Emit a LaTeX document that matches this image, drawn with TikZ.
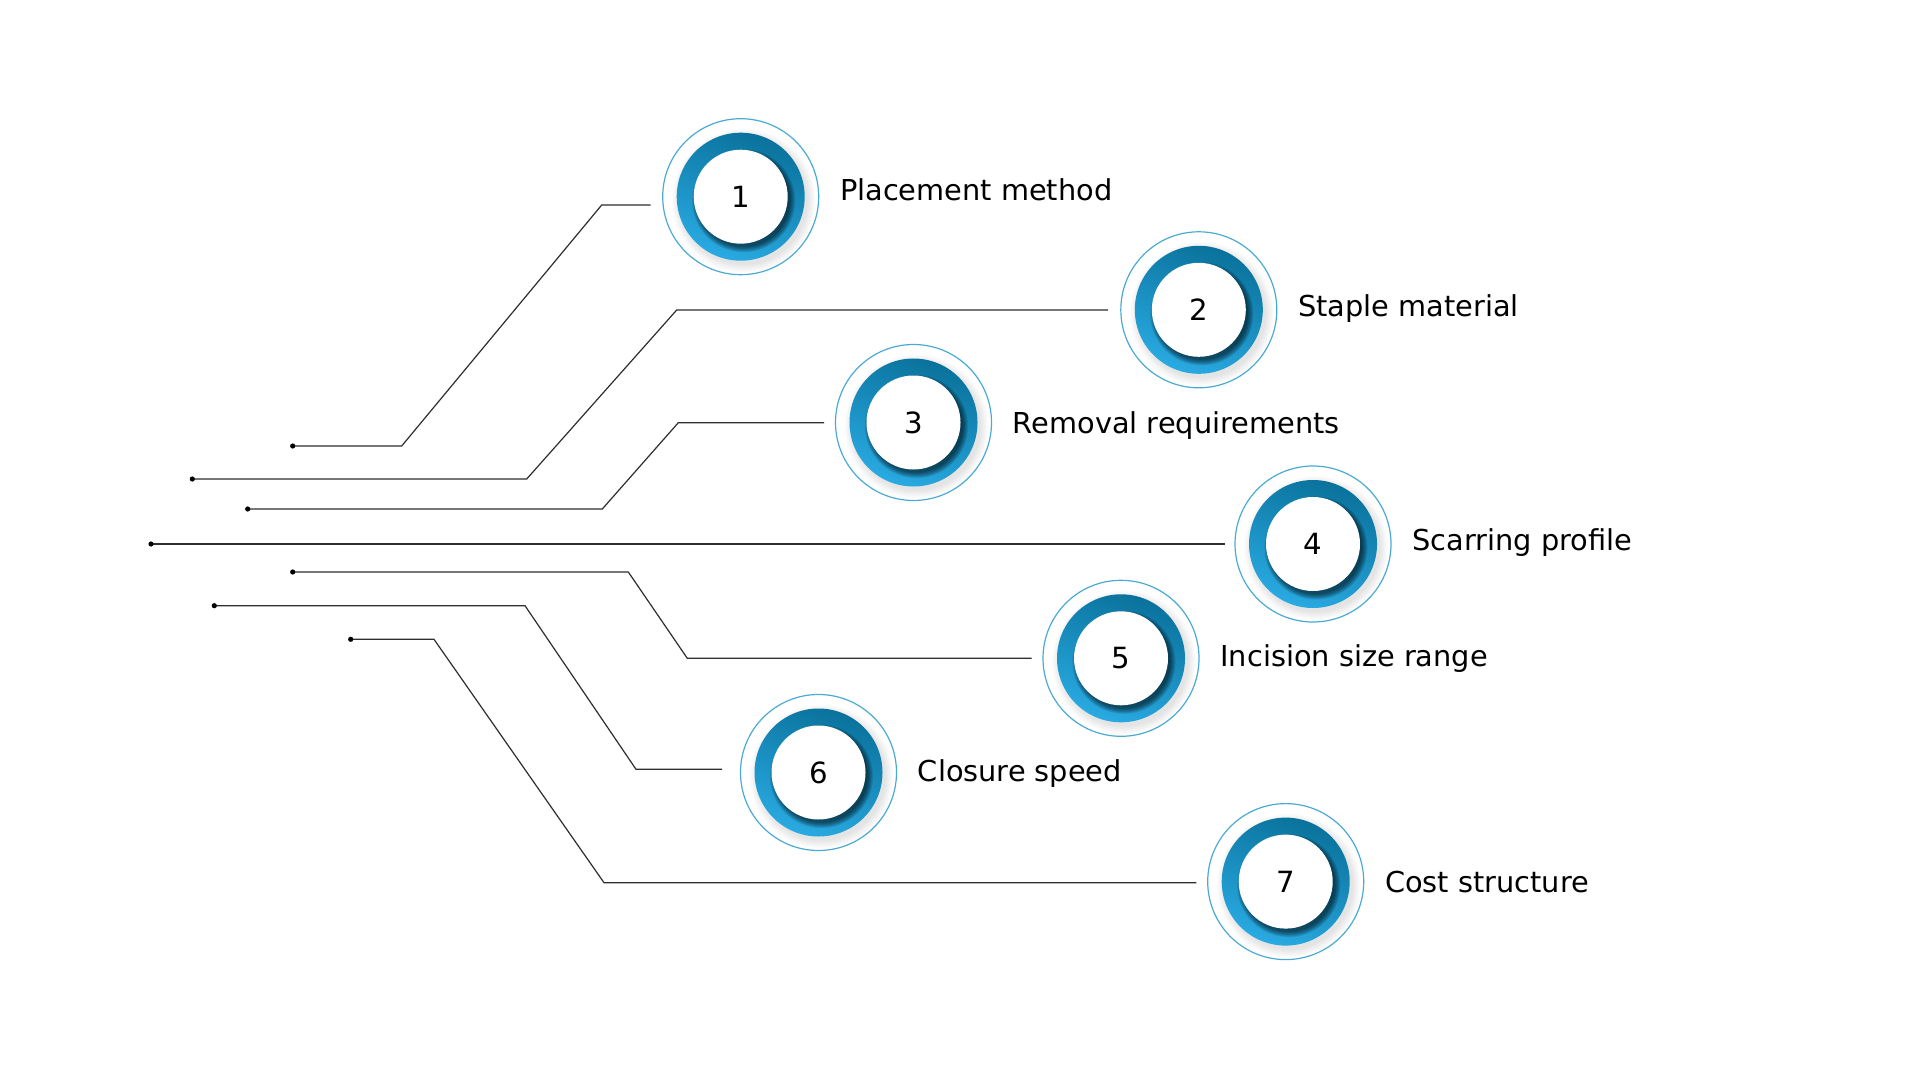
\documentclass[tikz,border=0pt]{standalone}
\usepackage{fontspec}
\setmainfont{DejaVu Sans}
\definecolor{ringtop}{HTML}{0A729C}
\definecolor{ringbot}{HTML}{29AAE2}
\definecolor{halo}{HTML}{4AAAD4}
\definecolor{wirecol}{HTML}{2E2E2E}
\tikzstyle{wire}=[draw=wirecol,line width=0.6pt]
\tikzstyle{digit}=[font=\fontsize{14.6}{16}\selectfont,inner sep=0pt,anchor=base]
\tikzstyle{caption}=[font=\fontsize{14.4}{16}\selectfont,inner sep=0pt,anchor=base west]

\begin{document}
\begin{tikzpicture}[x=0.5pt,y=-0.5pt]
\useasboundingbox[fill=white] (0,0) rectangle (1920,1080);
\foreach \n/\px/\py/\ax/\bx/\by/\ex in {%
    1/292.7/446/401.7/601.7/205/650.7,
    2/192.3/479/526.7/676.7/310/1108.2,
    3/247.7/509/602.3/678.3/422.7/824,
    4/151/544/600/700/544/1224.5,
    5/292.7/572/628.3/687.3/658.3/1031.7,
    6/214.3/605.7/525/636/769.3/722,
    7/350.7/639.3/434/604/882.7/1196.3}{
  \coordinate (p\n) at (\px,\py);
  \coordinate (e\n) at (\ex,\by);
  \draw[wire] (p\n) -- (\ax,\py) -- (\bx,\by) -- (e\n);
  \fill[black] (p\n) circle (2.6);
}
\foreach \n/\x/\y/\ty/\t in {%
    1/740.7/196.7/190/Placement method,
    2/1198.8/309.8/306/Staple material,
    3/913.5/422.5/422.5/Removal requirements,
    4/1313/544/540/Scarring profile,
    5/1121/658.3/656.3/Incision size range,
    6/818.5/772.5/771.4/Closure speed,
    7/1285.7/881.6/881.6/Cost structure}{
  \foreach \k in {1,...,9}
    \fill[black,opacity=0.012] (\x+3,\y+4) circle (63+\k);
  \draw[halo,line width=0.6pt] (\x,\y) circle (78);
  \shade[top color=ringtop,bottom color=ringbot,shading angle=-20] (\x,\y) circle (64);
  \foreach \k in {0,...,7}
    \fill[black,opacity=0.09] (\x+3,\y+4) circle (46+\k*0.8);
  \fill[white] (\x,\y) circle (47);
  \node[digit] (n\n) at (\x,\y+10.5) {\n};
  \node[caption] (t\n) at (\x+99,\ty+10.5) {\t};
}
\end{tikzpicture}
\end{document}
